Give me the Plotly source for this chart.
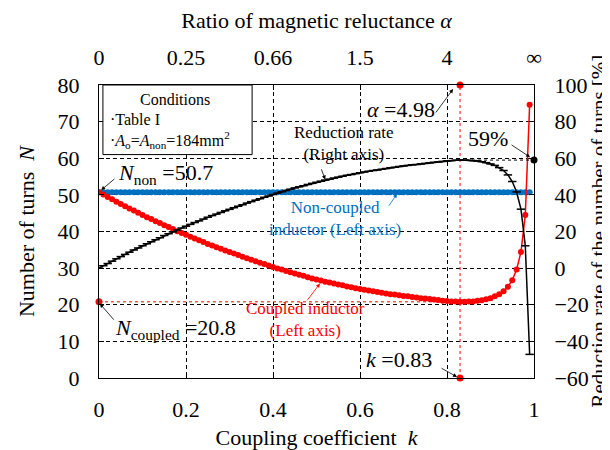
import plotly.graph_objects as go

# ---------------- data ----------------
k = [0.00, 0.01, 0.02, 0.03, 0.04, 0.05, 0.06, 0.07, 0.08, 0.09,
     0.10, 0.11, 0.12, 0.13, 0.14, 0.15, 0.16, 0.17, 0.18, 0.19,
     0.20, 0.21, 0.22, 0.23, 0.24, 0.25, 0.26, 0.27, 0.28, 0.29,
     0.30, 0.31, 0.32, 0.33, 0.34, 0.35, 0.36, 0.37, 0.38, 0.39,
     0.40, 0.41, 0.42, 0.43, 0.44, 0.45, 0.46, 0.47, 0.48, 0.49,
     0.50, 0.51, 0.52, 0.53, 0.54, 0.55, 0.56, 0.57, 0.58, 0.59,
     0.60, 0.61, 0.62, 0.63, 0.64, 0.65, 0.66, 0.67, 0.68, 0.69,
     0.70, 0.71, 0.72, 0.73, 0.74, 0.75, 0.76, 0.77, 0.78, 0.79,
     0.80, 0.81, 0.82, 0.83, 0.84, 0.85, 0.86, 0.87, 0.88, 0.89,
     0.90, 0.91, 0.92, 0.93, 0.94, 0.95, 0.96, 0.97, 0.98, 0.99]

n_coupled = [50.7, 50.1, 49.4, 48.8, 48.1, 47.5, 46.9, 46.3, 45.7, 45.1,
             44.5, 43.9, 43.4, 42.8, 42.3, 41.7, 41.2, 40.7, 40.1, 39.6,
             39.1, 38.6, 38.1, 37.6, 37.1, 36.6, 36.2, 35.7, 35.3, 34.8,
             34.4, 34.0, 33.6, 33.1, 32.7, 32.3, 31.9, 31.5, 31.1, 30.7,
             30.3, 29.9, 29.6, 29.2, 28.9, 28.5, 28.2, 27.9, 27.5, 27.2,
             26.9, 26.6, 26.3, 26.1, 25.8, 25.5, 25.3, 25.0, 24.8, 24.5,
             24.3, 24.1, 23.9, 23.7, 23.5, 23.3, 23.1, 22.9, 22.8, 22.6,
             22.4, 22.3, 22.1, 22.0, 21.8, 21.7, 21.6, 21.4, 21.3, 21.1,
             21.0, 20.9, 20.9, 20.8, 20.8, 20.9, 20.9, 21.1, 21.2, 21.5,
             21.8, 22.3, 22.9, 23.7, 24.9, 26.7, 29.6, 34.4, 44.5, 74.6]

n_noncoupled = [50.7] * len(k)

reduction_rate = [0.0, 1.3, 2.5, 3.8, 5.1, 6.3, 7.5, 8.7, 9.9, 11.0,
                  12.2, 13.3, 14.4, 15.5, 16.6, 17.8, 18.8, 19.8, 20.8, 21.9,
                  22.9, 23.9, 24.9, 25.8, 26.8, 27.8, 28.7, 29.5, 30.4, 31.3,
                  32.1, 33.0, 33.8, 34.6, 35.5, 36.3, 37.1, 37.9, 38.7, 39.4,
                  40.2, 41.0, 41.7, 42.4, 43.1, 43.8, 44.4, 45.0, 45.7, 46.3,
                  46.9, 47.5, 48.1, 48.6, 49.2, 49.7, 50.2, 50.7, 51.1, 51.6,
                  52.1, 52.5, 52.9, 53.3, 53.6, 54.0, 54.4, 54.8, 55.1, 55.5,
                  55.8, 56.1, 56.4, 56.6, 56.9, 57.2, 57.5, 57.8, 58.0, 58.3,
                  58.6, 58.7, 58.9, 59.0, 58.9, 58.9, 58.7, 58.5, 58.1, 57.6,
                  56.9, 56.1, 54.9, 53.3, 50.9, 47.3, 41.6, 32.2, 12.2, -47.1]

alpha_tick_pos = [0.0, 0.2, 0.4, 0.6, 0.8, 1.0]
alpha_tick_text = ["0", "0.25", "0.66", "1.5", "4", "∞"]

k_opt = 0.83
n_non = 50.7
n_min = 20.8
rate_at_opt = 59

RED = "#FF0000"
BLUE = "#0070C0"
FONT = "Liberation Serif"

fig = go.Figure()

# guide lines (red dotted) and their end points
fig.add_trace(go.Scatter(x=[k_opt, k_opt], y=[0, 80], mode="lines",
                         line=dict(color=RED, width=1, dash="dot"),
                         showlegend=False, hoverinfo="skip"))
fig.add_trace(go.Scatter(x=[0, k_opt], y=[n_min, n_min], mode="lines",
                         line=dict(color=RED, width=1, dash="dot"),
                         showlegend=False, hoverinfo="skip"))
fig.add_trace(go.Scatter(x=[0, k_opt, k_opt], y=[n_min, 80, 0], mode="markers",
                         marker=dict(color=RED, size=7), cliponaxis=False,
                         showlegend=False, hoverinfo="skip"))

# non-coupled inductor
fig.add_trace(go.Scatter(x=k, y=n_noncoupled, mode="lines+markers",
                         line=dict(color=BLUE, width=1.5),
                         marker=dict(color=BLUE, size=6),
                         showlegend=False))
# coupled inductor
fig.add_trace(go.Scatter(x=k, y=n_coupled, mode="lines+markers",
                         line=dict(color=RED, width=1.5),
                         marker=dict(color=RED, size=6),
                         showlegend=False))
# reduction rate (right axis)
fig.add_trace(go.Scatter(x=k, y=reduction_rate, yaxis="y2", mode="lines+markers",
                         line=dict(color="black", width=1.5),
                         marker=dict(symbol="line-ew", size=6,
                                     line=dict(color="black", width=1.5)),
                         showlegend=False))
fig.add_trace(go.Scatter(x=[k_opt, 1.0], y=[rate_at_opt, rate_at_opt], yaxis="y2",
                         mode="lines", line=dict(color="black", width=1, dash="dot"),
                         showlegend=False, hoverinfo="skip"))
fig.add_trace(go.Scatter(x=[1.0], y=[rate_at_opt], yaxis="y2", mode="markers",
                         marker=dict(color="black", size=7), cliponaxis=False,
                         showlegend=False, hoverinfo="skip"))
# dummy trace to carry the top axis
fig.add_trace(go.Scatter(x=[0, 1], y=[None, None], xaxis="x2", mode="lines",
                         showlegend=False, hoverinfo="skip"))

def axis_common():
    return dict(showline=True, linecolor="black", linewidth=1,
                ticks="inside", ticklen=5, tickcolor="black",
                zeroline=False, tickfont=dict(family=FONT, size=22, color="black"))

GRID = dict(showgrid=True, gridcolor="black", gridwidth=0.8, griddash="4px,3px")
TFONT = dict(family=FONT, size=22, color="black")

fig.update_layout(
    width=610, height=450,
    margin=dict(l=91, r=84, t=77, b=69),
    paper_bgcolor="white", plot_bgcolor="white",
    font=dict(family=FONT, color="black"),
    xaxis=dict(range=[0, 1], tickvals=[0, 0.2, 0.4, 0.6, 0.8, 1.0],
               ticktext=["0", "0.2", "0.4", "0.6", "0.8", "1"],
               ticklabelstandoff=12,
               title=dict(text="Coupling coefficient  <i>k</i>", font=TFONT, standoff=8),
               **GRID, **axis_common()),
    xaxis2=dict(range=[0, 1], overlaying="x", side="top", anchor="y",
                tickvals=alpha_tick_pos, ticktext=alpha_tick_text, showgrid=False,
                ticklabelstandoff=10,
                title=dict(text="Ratio of magnetic reluctance <i>α</i>", font=TFONT,
                           standoff=10),
                **axis_common()),
    yaxis=dict(range=[0, 80], dtick=10, ticklabelstandoff=14,
               title=dict(text="Number of turns  <i>N</i>", font=TFONT, standoff=16),
               **GRID, **axis_common()),
    yaxis2=dict(range=[-60, 100], dtick=20, overlaying="y", side="right",
                showgrid=False, ticklabelstandoff=15,
                **axis_common()),
)

# right axis title (as rotated paper text so it stays inside the picture)
fig.add_annotation(xref="paper", yref="paper", x=(590 - 91) / 435, y=0.5,
                   text="Reduction rate of the number of turns [%]", textangle=-90,
                   showarrow=False, xanchor="center", yanchor="middle",
                   font=dict(family=FONT, size=21, color="black"))

# Conditions box
fig.add_shape(type="rect", xref="x", yref="y", x0=0.009, x1=0.352, y0=61.0, y1=80,
              line=dict(color="black", width=1), fillcolor="white", layer="above")

def txt(x, y, s, size, color="black", xanchor="center"):
    fig.add_annotation(x=x, y=y, xref="x", yref="y", text=s, showarrow=False,
                       xanchor=xanchor, yanchor="middle",
                       font=dict(family=FONT, size=size, color=color))

def arrow(x0, y0, x1, y1, color="black"):
    fig.add_annotation(x=x1, y=y1, ax=x0, ay=y0, xref="x", yref="y",
                       axref="x", ayref="y", text="", showarrow=True,
                       arrowhead=2, arrowsize=1, arrowwidth=0.8, arrowcolor=color)

txt(0.175, 76.0, "Conditions", 16)
txt(0.021, 70.6, "·Table I", 16, xanchor="left")
txt(0.021, 65.0, "·<i>A</i><sub>o</sub>=<i>A</i><sub>non</sub>=184mm<sup>2</sup>", 16,
    xanchor="left")

txt(0.152, 55.6, "<i>N</i><sub>non</sub> =50.7", 22)
arrow(0.039, 54.7, 0.005, 51.3)

txt(0.176, 13.4, "<i>N</i><sub>coupled</sub> =20.8", 22)
arrow(0.037, 15.5, 0.002, 20.3)

txt(0.695, 73.2, "<i>α</i> =4.98", 22)
arrow(0.772, 72.1, 0.814, 78.9)

txt(0.69, 5.0, "<i>k</i> =0.83", 22)
arrow(0.784, 2.9, 0.823, 0.3)

txt(0.894, 65.5, "59%", 22)
arrow(0.945, 63.9, 0.991, 60.3)

txt(0.563, 63.9, "Reduction rate<br>(Right axis)", 17)
arrow(0.510, 57.4, 0.520, 54.2)

txt(0.543, 43.5, "Non-coupled<br>inductor (Left axis)", 17, color=BLUE)
arrow(0.664, 46.6, 0.685, 50.3, color=BLUE)

txt(0.474, 15.9, "Coupled inductor<br>(Left axis)", 17, color=RED)
arrow(0.476, 20.8, 0.508, 25.8, color=RED)

fig.write_html("out.html")
